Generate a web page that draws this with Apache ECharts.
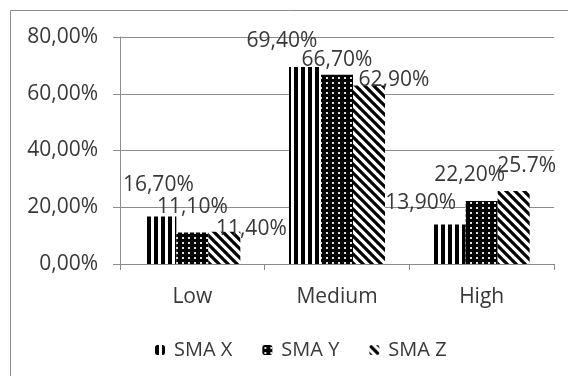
<!DOCTYPE html>
<html>
<head>
<meta charset="utf-8">
<script src="https://cdn.jsdelivr.net/npm/echarts@6/dist/echarts.min.js"></script>
<style>
  html, body { margin: 0; padding: 0; background: #fff; }
  #chart { width: 568px; height: 376px; }
</style>
</head>
<body>
<div id="chart"></div>
<script>
// Category names and values (percent) for each SMA group
const categories = ['Low', 'Medium', 'High'];
const seriesNames = ['SMA X', 'SMA Y', 'SMA Z'];
const smaX = [16.7, 69.4, 13.9];
const smaY = [11.1, 66.7, 22.2];
const smaZ = [11.4, 62.9, 25.7];
const yTicks = [0, 20, 40, 60, 80];

// Label placement relative to the top of each bar: [dx, dy]
const labelOffsets = [
  [[-2, -21], [-23, -16], [-29, -11]],
  [[0, -15], [0, -4], [-12, -15]],
  [[27, 8], [25, 5], [13, -15]]
];

const textColor = '#383838';
const gridColor = '#8c8c8c';
const font = 'Open Sans';

// Fill patterns drawn on small tiles
function tile(w, h, draw) {
  const c = document.createElement('canvas');
  c.width = w; c.height = h;
  const ctx = c.getContext('2d');
  draw(ctx, w, h);
  return { image: c, repeat: 'repeat' };
}
const patternStripes = tile(7, 7, (ctx, w, h) => {
  ctx.fillStyle = '#fff'; ctx.fillRect(0, 0, w, h);
  ctx.fillStyle = '#000'; ctx.fillRect(0, 0, 4, h);
});
const patternDots = tile(6, 5, (ctx, w, h) => {
  ctx.fillStyle = '#000'; ctx.fillRect(0, 0, w, h);
  ctx.fillStyle = '#e0e0e0'; ctx.fillRect(2, 2, 2, 2);
});
const patternDiag = tile(9, 9, (ctx, w, h) => {
  ctx.fillStyle = '#fff'; ctx.fillRect(0, 0, w, h);
  ctx.strokeStyle = '#000'; ctx.lineWidth = 3.2;
  ctx.beginPath();
  for (const k of [-w, 0, w]) { ctx.moveTo(k - 1, -1); ctx.lineTo(k + w + 1, h + 1); }
  ctx.stroke();
});
const patterns = [patternStripes, patternDots, patternDiag];

function fmtLabel(v) {
  // The High / SMA Z label is written with a point and one decimal
  if (v === 25.7) return '25.7%';
  return v.toFixed(2).replace('.', ',') + '%';
}

const values = [smaX, smaY, smaZ];
const series = values.map((vals, si) => ({
  name: seriesNames[si],
  type: 'bar',
  barWidth: 32,
  barGap: '0%',
  itemStyle: { color: patterns[si] },
  data: vals.map((v, ci) => ({
    value: v,
    label: { offset: labelOffsets[si][ci] }
  })),
  label: {
    show: true,
    position: 'top',
    distance: 0,
    color: textColor,
    fontFamily: font,
    fontSize: 21,
    lineHeight: 21,
    formatter: p => fmtLabel(p.value)
  },
  emphasis: { disabled: true }
}));

const chart = echarts.init(document.getElementById('chart'), null, { renderer: 'canvas' });
chart.setOption({
  animation: false,
  backgroundColor: '#fff',
  graphic: [{
    type: 'rect',
    shape: { x: 10.5, y: 10.5, width: 620, height: 420 },
    style: { fill: 'none', stroke: '#8c8c8c', lineWidth: 1 },
    silent: true
  }],
  grid: { left: 120, right: 14, top: 37, bottom: 112, containLabel: false },
  legend: {
    data: seriesNames,
    left: 150,
    top: 335,
    itemWidth: 10,
    itemHeight: 10,
    itemGap: 30,
    textStyle: { color: textColor, fontFamily: font, fontSize: 20, padding: [0, 0, 0, 4] }
  },
  xAxis: {
    type: 'category',
    data: categories,
    boundaryGap: true,
    axisLine: { show: true, lineStyle: { color: gridColor } },
    axisTick: { show: true, length: 6, lineStyle: { color: gridColor } },
    axisLabel: { color: textColor, fontFamily: font, fontSize: 21, margin: 23 }
  },
  yAxis: {
    type: 'value',
    min: yTicks[0],
    max: yTicks[yTicks.length - 1],
    interval: yTicks[1] - yTicks[0],
    axisLine: { show: true, lineStyle: { color: gridColor } },
    axisTick: { show: true, length: 7, lineStyle: { color: gridColor } },
    splitLine: { show: true, lineStyle: { color: gridColor } },
    axisLabel: {
      color: textColor, fontFamily: font, fontSize: 21, margin: 22,
      formatter: v => v.toFixed(2).replace('.', ',') + '%'
    }
  },
  series: series
});
</script>
</body>
</html>
